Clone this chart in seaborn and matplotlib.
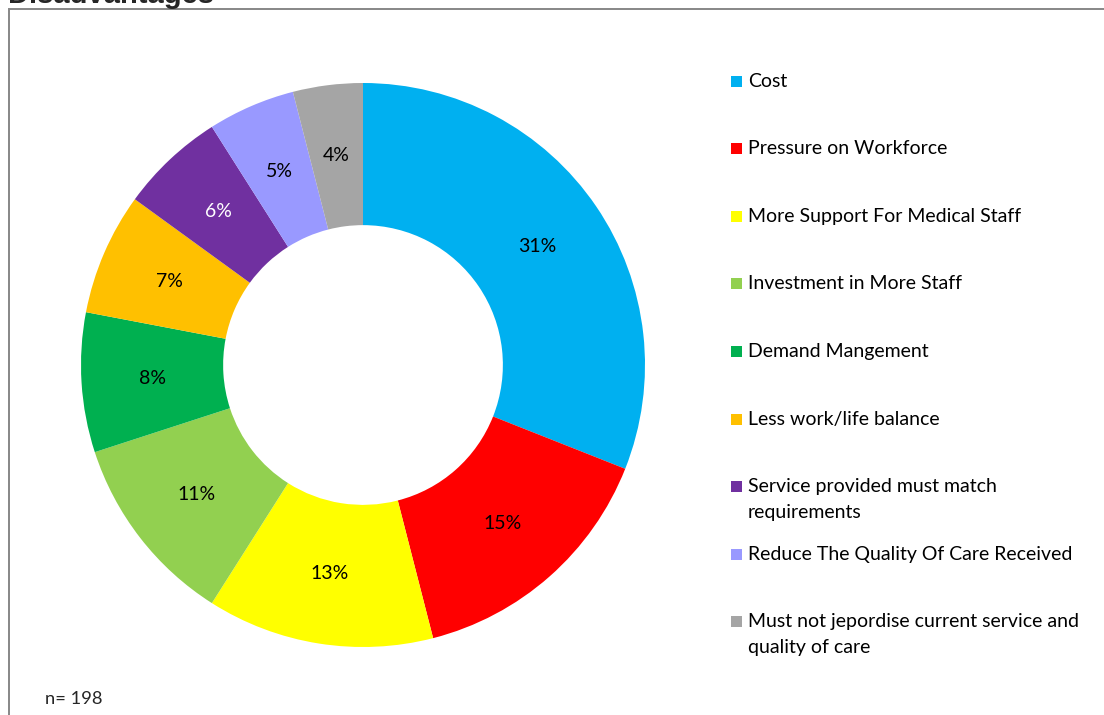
import matplotlib
matplotlib.use("Agg")
import matplotlib.pyplot as plt
from matplotlib.patches import Rectangle
import seaborn as sns

# Share of responses per disadvantage (percent, n = 198)
categories = [
    "Cost",
    "Pressure on Workforce",
    "More Support For Medical Staff",
    "Investment in More Staff",
    "Demand Mangement",
    "Less work/life balance",
    "Service provided must match\nrequirements",
    "Reduce The Quality Of Care Received",
    "Must not jepordise current service and\nquality of care",
]
values = [31, 15, 13, 11, 8, 7, 6, 5, 4]
colors = ["#00B0F0", "#FF0000", "#FFFF00", "#92D050", "#00B050",
          "#FFC000", "#7030A0", "#9999FF", "#A5A5A5"]
label_colors = ["black"] * 6 + ["white"] + ["black"] * 2
title = "Disadvantages"
note = "n= 198"

sns.set_theme(style="white")
plt.rcParams["font.family"] = ["Lato", "DejaVu Sans"]

W, H = 1104, 715
fig = plt.figure(figsize=(W / 100, H / 100), dpi=100)
fig.patch.set_facecolor("white")


def fx(x):
    return x / W


def fy(y):
    return 1 - y / H


# chart frame (only top and left edges fall inside the canvas)
fig.add_artist(Rectangle((fx(8.5), fy(720)), 1.2, fy(8.5) - fy(720),
                         transform=fig.transFigure, fill=False,
                         edgecolor="#878787", linewidth=1.4))

# donut
cx, cy, r = 363, 365, 282
ax = fig.add_axes([fx(cx - r), fy(cy + r), 2 * r / W, 2 * r / H])
wedges, texts, autotexts = ax.pie(
    values, colors=colors, startangle=90, counterclock=False, radius=1,
    wedgeprops=dict(width=0.504, linewidth=0),
    autopct=lambda p: f"{p:.0f}%", pctdistance=0.748,
    textprops=dict(fontsize=14))
for t, c in zip(autotexts, label_colors):
    t.set_color(c)
ax.set_xlim(-1, 1)
ax.set_ylim(-1, 1)
ax.set_aspect("equal")
ax.axis("off")

# legend: square aligned with the first text line of each entry
legend_y = [81, 148, 216, 283, 351, 419, 486, 554, 621]
line_step = 26
for lab, col, y in zip(categories, colors, legend_y):
    fig.add_artist(Rectangle((fx(731), fy(y + 6)), 11 / W, 11 / H,
                             transform=fig.transFigure, facecolor=col,
                             edgecolor="none"))
    for i, line in enumerate(lab.split("\n")):
        fig.text(fx(748), fy(y + 6 + i * line_step), line, ha="left",
                 va="baseline", fontsize=14, color="black")

fig.text(fx(8), fy(3), title, ha="left", va="baseline", fontsize=21,
         fontweight="bold", family=["Liberation Sans", "DejaVu Sans"])
fig.text(fx(45), fy(699), note, ha="left", va="center", fontsize=13.2)

fig.savefig("out.png", dpi=100, facecolor="white")
